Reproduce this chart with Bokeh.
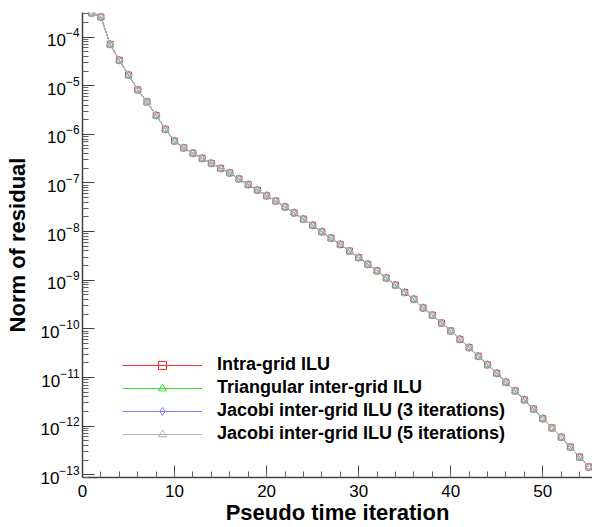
import math
from bokeh.plotting import figure
from bokeh.models import Range1d, FixedTicker, SingleIntervalTicker, Legend, LegendItem, LogTickFormatter
from bokeh.embed import file_html
from bokeh.resources import INLINE

# ---------------- data ----------------
iterations = list(range(1, 56))

intra_grid_ilu = [
    3.13e-4, 2.59e-4, 7.1e-5, 3.35e-5, 1.66e-5, 8.2e-6, 4.66e-6, 2.45e-6, 1.27e-6, 7.3e-7,
    5.27e-7, 4.11e-7, 3.21e-7, 2.54e-7, 2.0e-7, 1.61e-7, 1.21e-7, 9.27e-8, 7.13e-8, 5.46e-8,
    4.26e-8, 3.21e-8, 2.43e-8, 1.81e-8, 1.35e-8, 9.9e-9, 7.34e-9, 5.46e-9, 3.99e-9, 2.92e-9,
    2.13e-9, 1.56e-9, 1.11e-9, 7.96e-10, 5.6e-10, 4.07e-10, 2.7e-10, 1.92e-10, 1.32e-10, 9.06e-11,
    6.1e-11, 4.13e-11, 2.75e-11, 1.83e-11, 1.22e-11, 7.98e-12, 5.31e-12, 3.48e-12, 2.25e-12, 1.43e-12,
    9.2e-13, 5.94e-13, 3.72e-13, 2.32e-13, 1.45e-13,
]
# the four curves coincide in the reference
triangular_inter_grid_ilu = list(intra_grid_ilu)
jacobi_3_iterations = list(intra_grid_ilu)
jacobi_5_iterations = list(intra_grid_ilu)

series_labels = [
    "Intra-grid ILU",
    "Triangular inter-grid ILU",
    "Jacobi inter-grid ILU (3 iterations)",
    "Jacobi inter-grid ILU (5 iterations)",
]
series_values = [intra_grid_ilu, triangular_inter_grid_ilu, jacobi_3_iterations, jacobi_5_iterations]

x_major_ticks = [0, 10, 20, 30, 40, 50]
y_decade_exponents = list(range(-13, -3))

# ---------------- styles ----------------
colors = ["#ff3030", "#30e030", "#8080ff", "#b4b4b4"]
markers = ["square", "triangle", "diamond", "triangle"]
angles = [0, 0, 0, -math.pi / 2]
marker_sizes = [6, 7, 8, 7]
FONT = "Liberation Sans"

p = figure(
    width=592, height=527,
    x_range=Range1d(0, 55.4), y_range=Range1d(8.8e-14, 3.2e-4),
    y_axis_type="log",
    output_backend="svg", toolbar_location=None,
    min_border_left=82, min_border_right=0, min_border_top=12, min_border_bottom=47,
)
p.outline_line_color = None
p.xgrid.visible = False
p.ygrid.visible = False
p.background_fill_color = "white"
p.border_fill_color = "white"

items = []
for label, vals, col, mk, ang, ms in zip(series_labels, series_values, colors, markers, angles, marker_sizes):
    r1 = p.line(iterations, vals, line_color=col, line_width=1)
    r2 = p.scatter(iterations, vals, marker=mk, size=ms, angle=ang, line_color=col,
                   fill_color=None, line_width=1)
    items.append(LegendItem(label=label, renderers=[r1, r2]))

legend = Legend(
    items=items, location=(40, 33),
    glyph_width=80, glyph_height=20, label_height=20, spacing=2,
    label_standoff=15, padding=0, margin=0,
    border_line_alpha=0, background_fill_alpha=0,
    label_text_font=FONT, label_text_font_size="18px", label_text_font_style="bold",
    label_text_color="black",
)
p.add_layout(legend)

# x axis
xa = p.xaxis[0]
xa.ticker = SingleIntervalTicker(interval=10, num_minor_ticks=5)
xa.axis_label = "Pseudo time iteration"
# y axis
ya = p.yaxis[0]
ya.ticker = FixedTicker(
    ticks=[10.0 ** e for e in y_decade_exponents],
    minor_ticks=[k * 10.0 ** e for e in range(-14, -3) for k in range(2, 10)],
)
ya.formatter = LogTickFormatter()
ya.axis_label = "Norm of residual"

for ax in (xa, ya):
    ax.axis_line_color = "#404040"
    ax.axis_line_width = 1.5
    ax.major_tick_line_color = "#404040"
    ax.minor_tick_line_color = "#606060"
    ax.major_tick_in = 12
    ax.major_tick_out = 0
    ax.minor_tick_in = 6
    ax.minor_tick_out = 0
    ax.major_label_text_font = FONT
    ax.major_label_text_font_size = "17px"
    ax.major_label_text_color = "black"
    ax.axis_label_text_font = FONT
    ax.axis_label_text_font_size = "22px"
    ax.axis_label_text_font_style = "bold"
    ax.axis_label_text_color = "black"

xa.major_label_standoff = 7
xa.axis_label_standoff = 0
ya.major_label_standoff = 3
ya.axis_label_standoff = 7

open("out.html", "w").write(file_html(p, INLINE))
